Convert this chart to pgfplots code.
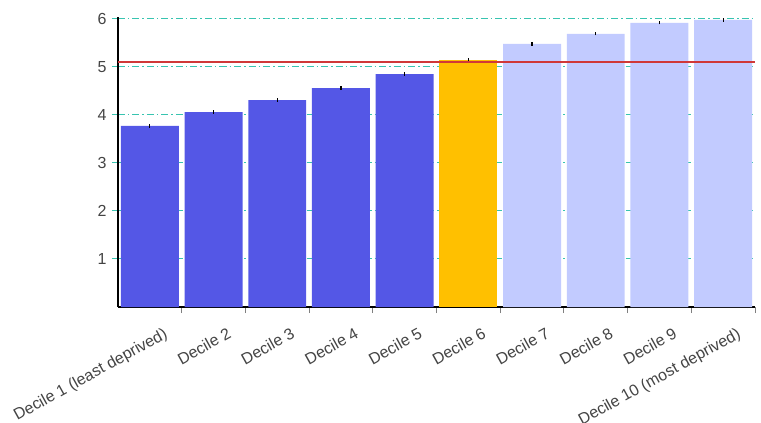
\documentclass[border=0pt]{standalone}
\usepackage{fontspec}
\setmainfont{Liberation Sans}
\usepackage{pgfplots}
\pgfplotsset{compat=1.18}
\usetikzlibrary{calc}
\definecolor{darkbar}{RGB}{84,87,230}
\definecolor{orangebar}{RGB}{255,192,0}
\definecolor{lightbar}{RGB}{194,203,255}
\definecolor{refred}{RGB}{208,56,56}
\definecolor{gridteal}{RGB}{56,196,176}
\definecolor{labgray}{RGB}{68,68,68}
\begin{document}
\begin{tikzpicture}
\begin{axis}[
  scale only axis, width=637bp, height=290bp,
  xmin=-0.5, xmax=9.5, ymin=0, ymax=6.04,
  axis x line=bottom, axis y line=left,
  axis line style={-, black, line width=1.3bp},
  xtick={0,...,9},
  xticklabels={Decile 1 (least deprived),Decile 2,Decile 3,Decile 4,Decile 5,Decile 6,Decile 7,Decile 8,Decile 9,Decile 10 (most deprived)},
  major x tick style={draw=none},
  minor xtick={0.5,1.5,...,9.5},
  minor x tick style={gray, line width=1bp},
  minor tick length=6bp,
  ytick={1,...,6},
  ymajorgrids,
  major grid style={gridteal, line width=1bp, dash pattern=on 7bp off 3bp on 1.5bp off 3bp},
  major y tick style={gridteal, line width=1bp},
  major tick length=6bp, tick align=outside,
  tick label style={font=\fontsize{16bp}{19bp}\selectfont, text=labgray},
  /pgf/number format/assume math mode=true,
  xticklabel style={rotate=29, anchor=north east, xshift=8bp, yshift=-15bp},
  yticklabel style={xshift=-2bp},
  clip=false,
]
\coordinate (bl) at (rel axis cs:0,0);
\coordinate (tr) at (rel axis cs:1,1);
\addplot[ybar, bar width=0.91, bar shift=0pt, fill=darkbar, draw=none,
  error bars/.cd, y dir=both, y explicit, error mark=none,
  error bar style={black, line width=1.3bp}]
  coordinates {(0,3.77) +- (0,0.035) (1,4.06) +- (0,0.035) (2,4.31) +- (0,0.035) (3,4.56) +- (0,0.035) (4,4.85) +- (0,0.035)};
\addplot[ybar, bar width=0.91, bar shift=0pt, fill=orangebar, draw=none,
  error bars/.cd, y dir=both, y explicit, error mark=none,
  error bar style={black, line width=1.3bp}]
  coordinates {(5,5.15) +- (0,0.035)};
\addplot[ybar, bar width=0.91, bar shift=0pt, fill=lightbar, draw=none,
  error bars/.cd, y dir=both, y explicit, error mark=none,
  error bar style={black, line width=1.3bp}]
  coordinates {(6,5.48) +- (0,0.035) (7,5.69) +- (0,0.035) (8,5.92) +- (0,0.035) (9,5.98) +- (0,0.035)};
\addplot[refred, line width=2bp, no marks] coordinates {(-0.5,5.10) (9.5,5.10)};
\end{axis}
\pgfresetboundingbox
\path[use as bounding box] ($(bl)+(-118bp,-116bp)$) rectangle ($(tr)+(6bp,17bp)$);
\end{tikzpicture}
\end{document}
